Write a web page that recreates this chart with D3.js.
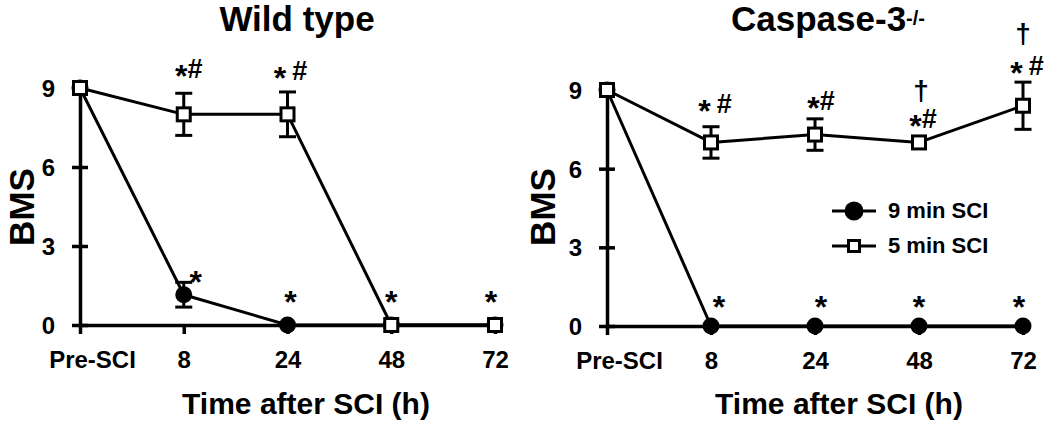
<!DOCTYPE html>
<html>
<head>
<meta charset="utf-8">
<script src="https://cdn.jsdelivr.net/npm/d3@7/dist/d3.min.js"></script>
<style>
  html, body { margin: 0; padding: 0; background: #fff; }
  svg { display: block; }
  text { font-family: "Liberation Sans", Arial, Helvetica, sans-serif; font-weight: bold; fill: #000; }
</style>
</head>
<body>
<svg id="chart" width="1050" height="422"></svg>
<script>
// ---------------- DATA ----------------
const categories = ["Pre-SCI", "8", "24", "48", "72"];
const yTicks = [0, 3, 6, 9];
const seriesNames = ["9 min SCI", "5 min SCI"];

// Wild type
const wt9min = [9, 1.15, 0, 0, 0];
const wt9minErr = [0, 0.47, 0, 0, 0];
const wt5min = [9, 8, 8, 0, 0];
const wt5minErr = [0, 0.8, 0.85, 0, 0];

// Caspase-3 -/-
const ko9min = [9, 0, 0, 0, 0];
const ko9minErr = [0, 0, 0, 0, 0];
const ko5min = [9, 7.0, 7.3, 7.0, 8.4];
const ko5minErr = [0, 0.6, 0.6, 0, 0.9];

// significance labels: category, label, level (BMS units)
const wtLabels = [
  { cat: "8", text: "*#", level: 9.38, dx: 5 },
  { cat: "24", text: "* #", level: 9.3, dx: 3 },
  { cat: "8", text: "*", level: 1.56, dx: 12 },
  { cat: "24", text: "*", level: 0.8, dx: 3 },
  { cat: "48", text: "*", level: 0.8, dx: 0 },
  { cat: "72", text: "*", level: 0.8, dx: -4 }
];
const koLabels = [
  { cat: "8", text: "* #", level: 8.13, dx: 4 },
  { cat: "24", text: "*#", level: 8.24, dx: 6 },
  { cat: "48", text: "*#", level: 7.56, dx: 4 },
  { cat: "48", text: "†", level: 8.63, dx: 2 },
  { cat: "72", text: "* #", level: 9.58, dx: 4 },
  { cat: "72", text: "†", level: 10.8, dx: 0 },
  { cat: "8", text: "*", level: 0.65, dx: 8 },
  { cat: "24", text: "*", level: 0.65, dx: 6 },
  { cat: "48", text: "*", level: 0.65, dx: 0 },
  { cat: "72", text: "*", level: 0.65, dx: -4 }
];

// ---------------- LAYOUT ----------------
const svg = d3.select("#chart");
svg.append("rect").attr("width", 1050).attr("height", 422).attr("fill", "#fff");

const panels = [
  { title: "Wild type", sup: null, titleX: 297, s9: wt9min, e9: wt9minErr, s5: wt5min, e5: wt5minErr,
    labels: wtLabels, x0: 80, x1: 495, yBottom: 325, yTop: 88, bmsX: 21, xTitleX: 306, legend: false },
  { title: "Caspase-3", sup: "-/-", titleX: 828, s9: ko9min, e9: ko9minErr, s5: ko5min, e5: ko5minErr,
    labels: koLabels, x0: 607, x1: 1023, yBottom: 326, yTop: 90, bmsX: 542, xTitleX: 839, legend: true }
];

const LW = 3;

panels.forEach(p => {
  const g = svg.append("g");
  const x = d3.scalePoint().domain(categories).range([p.x0, p.x1]);
  const y = d3.scaleLinear().domain([0, 9]).range([p.yBottom, p.yTop]);

  // title
  const t = g.append("text").attr("x", p.titleX).attr("y", 31)
    .attr("text-anchor", "middle").style("font-size", "35px").text(p.title);
  if (p.sup) {
    t.append("tspan").attr("dy", -6).style("font-size", "20px").text(p.sup);
  }

  // y axis
  const yAxis = d3.axisLeft(y).tickValues(yTicks).tickSize(8).tickSizeOuter(0).tickFormat(d3.format("d"));
  const ya = g.append("g").attr("transform", `translate(${p.x0},0)`).call(yAxis);
  ya.attr("font-family", null).attr("font-size", null);
  ya.select(".domain").attr("stroke", "#000").attr("stroke-width", 3.5);
  ya.selectAll(".tick line").attr("x1", 8).attr("x2", -8).attr("stroke", "#000").attr("stroke-width", 3.5);
  ya.selectAll(".tick text").attr("x", -25).attr("dy", null).attr("y", 8.5)
    .style("font-size", "24px").attr("fill", "#000");

  // x axis
  const xAxis = d3.axisBottom(x).tickSize(9).tickSizeOuter(0);
  const xa = g.append("g").attr("transform", `translate(0,${p.yBottom})`).call(xAxis);
  xa.attr("font-family", null).attr("font-size", null);
  xa.select(".domain").attr("stroke", "#000").attr("stroke-width", 3.5);
  xa.selectAll(".tick line").attr("stroke", "#000").attr("stroke-width", 3.5);
  xa.selectAll(".tick text").attr("dy", null).attr("y", 43)
    .attr("dx", d => d === "Pre-SCI" ? 12 : 0)
    .style("font-size", "24px").attr("fill", "#000");

  // axis titles
  g.append("text").attr("x", p.xTitleX).attr("y", 414).attr("text-anchor", "middle")
    .style("font-size", "30px").text("Time after SCI (h)");
  g.append("text").attr("transform", `translate(${p.bmsX + 13},${207}) rotate(-90)`)
    .attr("text-anchor", "middle").style("font-size", "35px").text("BMS");

  const line = d3.line().x((d, i) => x(categories[i])).y(d => y(d));

  // series lines
  [p.s9, p.s5].forEach(s => {
    g.append("path").datum(s).attr("d", line).attr("fill", "none")
      .attr("stroke", "#000").attr("stroke-width", LW).attr("stroke-linejoin", "round");
  });

  // error bars
  const drawErr = (vals, errs) => {
    vals.forEach((v, i) => {
      const e = errs[i];
      if (!e) return;
      const cx = x(categories[i]);
      const eg = g.append("g").attr("stroke", "#000").attr("stroke-width", LW);
      eg.append("line").attr("x1", cx).attr("x2", cx).attr("y1", y(v - e)).attr("y2", y(v + e));
      [v - e, v + e].forEach(c => eg.append("line").attr("x1", cx - 8.5).attr("x2", cx + 8.5).attr("y1", y(c)).attr("y2", y(c)));
    });
  };
  drawErr(p.s9, p.e9);
  drawErr(p.s5, p.e5);

  // markers: circles
  g.selectAll(".c").data(p.s9).enter().append("circle")
    .attr("cx", (d, i) => x(categories[i])).attr("cy", d => y(d)).attr("r", 8.5).attr("fill", "#000");
  // squares
  g.selectAll(".s").data(p.s5).enter().append("rect")
    .attr("x", (d, i) => x(categories[i]) - 6.5).attr("y", d => y(d) - 6.5)
    .attr("width", 13).attr("height", 13)
    .attr("fill", "#fff").attr("stroke", "#000").attr("stroke-width", LW);

  // significance labels
  p.labels.forEach(l => {
    const tx = g.append("text").attr("x", x(l.cat) + l.dx).attr("y", y(l.level))
      .attr("text-anchor", "middle");
    let shifted = 0;
    for (const ch of l.text) {
      if (ch === "*") {
        tx.append("tspan").attr("dy", 9 - shifted).style("font-size", "32px").text("*");
        shifted = 9;
      } else if (ch === "#") {
        tx.append("tspan").attr("dy", -shifted).style("font-size", "27px").text("#");
        shifted = 0;
      } else if (ch === "†") {
        tx.append("tspan").attr("dy", -shifted).style("font-size", "28px").text("†");
        shifted = 0;
      } else {
        tx.append("tspan").attr("dy", 0).style("font-size", "22px").text("\u00a0");
      }
    }
  });

  // legend
  if (p.legend) {
    const lg = g.append("g");
    const rows = [{ name: seriesNames[0], cy: 211, ty: 218 }, { name: seriesNames[1], cy: 246, ty: 253 }];
    rows.forEach((r, i) => {
      lg.append("line").attr("x1", 832).attr("x2", 876).attr("y1", r.cy).attr("y2", r.cy)
        .attr("stroke", "#000").attr("stroke-width", LW);
      if (i === 0) {
        lg.append("circle").attr("cx", 854).attr("cy", r.cy).attr("r", 9.5).attr("fill", "#000");
      } else {
        lg.append("rect").attr("x", 848.5).attr("y", r.cy - 5.5).attr("width", 11).attr("height", 11)
          .attr("fill", "#fff").attr("stroke", "#000").attr("stroke-width", LW);
      }
      lg.append("text").attr("x", 888).attr("y", r.ty).style("font-size", "22px").text(r.name);
    });
  }
});
</script>
</body>
</html>
